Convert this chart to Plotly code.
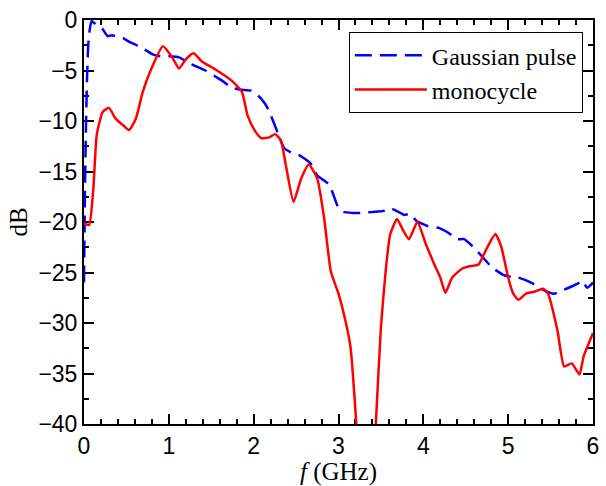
import plotly.graph_objects as go

# Gaussian pulse spectrum (dB)
f_gauss = [0, 0.01, 0.02, 0.035, 0.05, 0.07, 0.09, 0.12, 0.16, 0.21, 0.28, 0.33, 0.40, 0.46,
           0.54, 0.62, 0.71, 0.81, 0.90, 1.0, 1.12, 1.27, 1.43, 1.59, 1.66, 1.74, 1.86, 1.97,
           2.09, 2.17, 2.28, 2.36, 2.44, 2.54, 2.67, 2.75, 2.89, 3.0, 3.06, 3.17, 3.29, 3.40,
           3.53, 3.60, 3.66, 3.78, 3.84, 3.92, 4.05, 4.19, 4.30, 4.40, 4.48, 4.58, 4.67, 4.81,
           4.96, 5.12, 5.27, 5.43, 5.54, 5.66, 5.82, 5.87, 5.93, 6.0]
db_gauss = [-26, -18, -12, -6, -2.5, -0.8, -0.1, -0.3, -0.6, -0.8, -1.6, -1.5, -1.7, -1.8,
            -2.2, -2.5, -2.9, -3.4, -3.6, -3.6, -3.7, -4.4, -5.0, -5.8, -6.2, -6.7, -6.9, -7.0,
            -7.8, -8.8, -11.1, -12.7, -13.1, -13.4, -14.2, -15.4, -16.3, -18.6, -19.0, -19.1,
            -19.1, -19.0, -18.9, -18.6, -18.8, -19.3, -19.2, -19.9, -20.4, -20.6, -21.1, -21.7,
            -21.7, -22.4, -23.2, -24.5, -25.3, -25.5, -26.0, -26.8, -27.1, -26.7, -26.1, -25.8,
            -26.5, -26.0]

# Monocycle spectrum (dB)
f_mono = [0, 0.06, 0.11, 0.15, 0.22, 0.295, 0.36, 0.40, 0.46, 0.53, 0.61, 0.69, 0.79, 0.93,
          1.04, 1.12, 1.20, 1.29, 1.39, 1.55, 1.74, 1.86, 1.93, 2.01, 2.09, 2.19, 2.25, 2.32,
          2.38, 2.47, 2.56, 2.65, 2.75, 2.83, 2.91, 3.0, 3.08, 3.14, 3.21, 3.25, 3.40, 3.44,
          3.50, 3.56, 3.61, 3.69, 3.76, 3.83, 3.93, 4.03, 4.13, 4.20, 4.26, 4.34, 4.46, 4.53,
          4.65, 4.73, 4.85, 4.92, 5.00, 5.06, 5.12, 5.21, 5.31, 5.41, 5.47, 5.58, 5.66, 5.75,
          5.84, 5.89, 6.0]
db_mono = [-20.1, -20.3, -16.7, -11.4, -9.1, -8.7, -9.6, -10.0, -10.4, -10.9, -9.8, -7.2, -4.9,
           -2.6, -3.7, -4.8, -3.9, -3.3, -4.1, -4.9, -6.0, -7.1, -9.5, -10.9, -11.7, -11.6,
           -11.3, -11.9, -14.4, -18.0, -15.7, -14.3, -15.7, -19.6, -24.9, -27.1, -29.7, -32.3,
           -40, -46, -46, -40, -30.4, -24.5, -21.2, -19.7, -20.8, -21.7, -20.0, -22.2, -24.2,
           -25.5, -27.0, -25.5, -24.6, -24.4, -24.2, -22.9, -21.2, -22.5, -25.5, -27.1, -27.7,
           -27.1, -26.9, -26.6, -27.1, -30.7, -34.3, -34.0, -35.1, -33.3, -31.0]

x_ticks = [0, 1, 2, 3, 4, 5, 6]
y_ticks = [-40, -35, -30, -25, -20, -15, -10, -5, 0]

fig = go.Figure()
fig.add_trace(go.Scatter(x=f_gauss, y=db_gauss, mode="lines", name="Gaussian pulse",
                         line=dict(color="#0000ff", width=2.5, dash="17px,8px", shape="spline", smoothing=0.5)))
fig.add_trace(go.Scatter(x=f_mono, y=db_mono, mode="lines", name="monocycle",
                         line=dict(color="#ff0000", width=2.5, shape="spline", smoothing=0.5)))

axis_common = dict(showline=True, linecolor="black", linewidth=2, mirror="allticks",
                   ticks="inside", ticklen=10, tickwidth=2, tickcolor="black",
                   showgrid=False, zeroline=False, layer="below traces",
                   tickfont=dict(family="Liberation Sans, Arial", size=23, color="black"))

fig.update_xaxes(range=[0, 6], tickvals=x_ticks, ticktext=[str(v) for v in x_ticks],
                 minor=dict(dtick=0.2, ticks="inside", ticklen=5, tickwidth=2, tickcolor="black"),
                 title=dict(text="<i>f</i> (GHz)", font=dict(family="Liberation Serif", size=25, color="black"),
                            standoff=2),
                 **axis_common)
fig.update_yaxes(range=[-40, 0], tickvals=y_ticks,
                 minor=dict(dtick=2.5, ticks="inside", ticklen=5, tickwidth=2, tickcolor="black"),
                 title=dict(text="dB", font=dict(family="Liberation Serif", size=25, color="black"),
                            standoff=4),
                 **axis_common)

fig.update_layout(
    width=606, height=486,
    margin=dict(l=84, r=7, t=17, b=62),
    paper_bgcolor="white", plot_bgcolor="white",
    legend=dict(x=0.98, y=0.97, xanchor="right", yanchor="top",
                bordercolor="black", borderwidth=1, bgcolor="white",
                font=dict(family="Liberation Serif", size=24, color="black"),
                itemwidth=72, tracegroupgap=0),
)

fig.write_html("out.html")
